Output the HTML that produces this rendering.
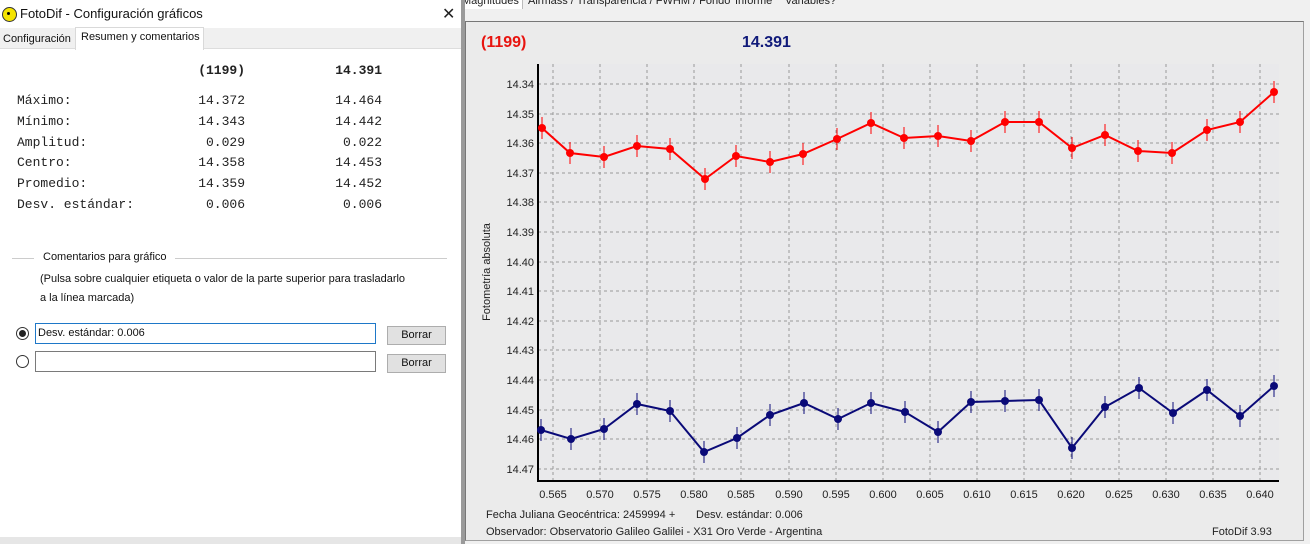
<!DOCTYPE html>
<html><head><meta charset="utf-8"><style>
body{margin:0;width:1310px;height:544px;overflow:hidden;background:#f0f0f0;font-family:"Liberation Sans",sans-serif;position:relative}
.abs{position:absolute}
.m{position:absolute;font-family:"Liberation Mono",monospace;font-size:13px;color:#222;white-space:pre}
.r{text-align:right}
</style></head><body>
<div class="abs" style="left:462px;top:0;width:848px;height:10px;background:#f0f0f0;font-size:11px;color:#222">
<div class="abs" style="left:0;top:-5px;width:60px;height:14px;background:#fff;border-right:1px solid #bbb">Magnitudes</div>
<div class="abs" style="left:66px;top:-5px;">Airmass / Transparencia / FWHM / Fondo</div>
<div class="abs" style="left:273px;top:-5px;">Informe</div>
<div class="abs" style="left:323px;top:-5px;">Variables?</div>
</div>
<div class="abs" style="left:465px;top:21px;width:837px;height:518px;background:#ebebeb;border:1px solid #a0a0a0;border-left-color:#777;border-top-color:#777"></div>
<svg class="abs" style="left:0;top:0" width="1310" height="544">
<text x="481" y="47" font-size="16" font-weight="bold" fill="#e8140f" font-family="Liberation Sans">(1199)</text>
<text x="742" y="47" font-size="16" font-weight="bold" fill="#101a7a" font-family="Liberation Sans">14.391</text>
<rect x="538" y="64" width="741" height="417" fill="#e9e9eb"/>
<g stroke="#999" stroke-dasharray="3,3" stroke-width="1">
<line x1="538" y1="84" x2="1279" y2="84"/><line x1="538" y1="114" x2="1279" y2="114"/><line x1="538" y1="143" x2="1279" y2="143"/><line x1="538" y1="173" x2="1279" y2="173"/><line x1="538" y1="202" x2="1279" y2="202"/><line x1="538" y1="232" x2="1279" y2="232"/><line x1="538" y1="262" x2="1279" y2="262"/><line x1="538" y1="291" x2="1279" y2="291"/><line x1="538" y1="321" x2="1279" y2="321"/><line x1="538" y1="350" x2="1279" y2="350"/><line x1="538" y1="380" x2="1279" y2="380"/><line x1="538" y1="410" x2="1279" y2="410"/><line x1="538" y1="439" x2="1279" y2="439"/><line x1="538" y1="469" x2="1279" y2="469"/>
<line x1="553" y1="64" x2="553" y2="481"/><line x1="600" y1="64" x2="600" y2="481"/><line x1="647" y1="64" x2="647" y2="481"/><line x1="694" y1="64" x2="694" y2="481"/><line x1="741" y1="64" x2="741" y2="481"/><line x1="789" y1="64" x2="789" y2="481"/><line x1="836" y1="64" x2="836" y2="481"/><line x1="883" y1="64" x2="883" y2="481"/><line x1="930" y1="64" x2="930" y2="481"/><line x1="977" y1="64" x2="977" y2="481"/><line x1="1024" y1="64" x2="1024" y2="481"/><line x1="1071" y1="64" x2="1071" y2="481"/><line x1="1119" y1="64" x2="1119" y2="481"/><line x1="1166" y1="64" x2="1166" y2="481"/><line x1="1213" y1="64" x2="1213" y2="481"/><line x1="1260" y1="64" x2="1260" y2="481"/>
</g>
<path d="M538 64V481H1279" fill="none" stroke="#000" stroke-width="2"/>
<g font-size="11" fill="#222" text-anchor="end" font-family="Liberation Sans">
<text x="534" y="88">14.34</text><text x="534" y="118">14.35</text><text x="534" y="147">14.36</text><text x="534" y="177">14.37</text><text x="534" y="206">14.38</text><text x="534" y="236">14.39</text><text x="534" y="266">14.40</text><text x="534" y="295">14.41</text><text x="534" y="325">14.42</text><text x="534" y="354">14.43</text><text x="534" y="384">14.44</text><text x="534" y="414">14.45</text><text x="534" y="443">14.46</text><text x="534" y="473">14.47</text>
</g>
<g font-size="11" fill="#222" text-anchor="middle" font-family="Liberation Sans">
<text x="553" y="498">0.565</text><text x="600" y="498">0.570</text><text x="647" y="498">0.575</text><text x="694" y="498">0.580</text><text x="741" y="498">0.585</text><text x="789" y="498">0.590</text><text x="836" y="498">0.595</text><text x="883" y="498">0.600</text><text x="930" y="498">0.605</text><text x="977" y="498">0.610</text><text x="1024" y="498">0.615</text><text x="1071" y="498">0.620</text><text x="1119" y="498">0.625</text><text x="1166" y="498">0.630</text><text x="1213" y="498">0.635</text><text x="1260" y="498">0.640</text>
</g>
<text transform="translate(490,272) rotate(-90)" font-size="11" fill="#222" text-anchor="middle" font-family="Liberation Sans">Fotometría absoluta</text>
<text x="486" y="518" font-size="11" fill="#222" font-family="Liberation Sans">Fecha Juliana Geocéntrica: 2459994 +</text>
<text x="696" y="518" font-size="11" fill="#222" font-family="Liberation Sans">Desv. estándar: 0.006</text>
<text x="486" y="535" font-size="11" fill="#222" font-family="Liberation Sans">Observador: Observatorio Galileo Galilei - X31 Oro Verde - Argentina</text>
<text x="1212" y="535" font-size="11" fill="#222" font-family="Liberation Sans">FotoDif 3.93</text>
<g stroke="#f00" fill="#f00">
<polyline fill="none" stroke-width="2" points="542,128 570,153 604,157 637,146 670,149 705,179 736,156 770,162 803,154 837,139 871,123 904,138 938,136 971,141 1005,122 1039,122 1072,148 1105,135 1138,151 1172,153 1207,130 1240,122 1274,92"/>
<path stroke-width="1" d="M542 117v22M570 142v22M604 146v22M637 135v22M670 138v22M705 168v22M736 145v22M770 151v22M803 143v22M837 128v22M871 112v22M904 127v22M938 125v22M971 130v22M1005 111v22M1039 111v22M1072 137v22M1105 124v22M1138 140v22M1172 142v22M1207 119v22M1240 111v22M1274 81v22"/>
<g stroke="none"><circle cx="542" cy="128" r="4"/><circle cx="570" cy="153" r="4"/><circle cx="604" cy="157" r="4"/><circle cx="637" cy="146" r="4"/><circle cx="670" cy="149" r="4"/><circle cx="705" cy="179" r="4"/><circle cx="736" cy="156" r="4"/><circle cx="770" cy="162" r="4"/><circle cx="803" cy="154" r="4"/><circle cx="837" cy="139" r="4"/><circle cx="871" cy="123" r="4"/><circle cx="904" cy="138" r="4"/><circle cx="938" cy="136" r="4"/><circle cx="971" cy="141" r="4"/><circle cx="1005" cy="122" r="4"/><circle cx="1039" cy="122" r="4"/><circle cx="1072" cy="148" r="4"/><circle cx="1105" cy="135" r="4"/><circle cx="1138" cy="151" r="4"/><circle cx="1172" cy="153" r="4"/><circle cx="1207" cy="130" r="4"/><circle cx="1240" cy="122" r="4"/><circle cx="1274" cy="92" r="4"/></g>
</g>
<g stroke="#0a0a78" fill="#0a0a78">
<polyline fill="none" stroke-width="2" points="541,430 571,439 604,429 637,404 670,411 704,452 737,438 770,415 804,403 838,419 871,403 905,412 938,432 971,402 1005,401 1039,400 1072,448 1105,407 1139,388 1173,413 1207,390 1240,416 1274,386"/>
<path stroke-width="1" d="M541 419v22M571 428v22M604 418v22M637 393v22M670 400v22M704 441v22M737 427v22M770 404v22M804 392v22M838 408v22M871 392v22M905 401v22M938 421v22M971 391v22M1005 390v22M1039 389v22M1072 437v22M1105 396v22M1139 377v22M1173 402v22M1207 379v22M1240 405v22M1274 375v22"/>
<g stroke="none"><circle cx="541" cy="430" r="4"/><circle cx="571" cy="439" r="4"/><circle cx="604" cy="429" r="4"/><circle cx="637" cy="404" r="4"/><circle cx="670" cy="411" r="4"/><circle cx="704" cy="452" r="4"/><circle cx="737" cy="438" r="4"/><circle cx="770" cy="415" r="4"/><circle cx="804" cy="403" r="4"/><circle cx="838" cy="419" r="4"/><circle cx="871" cy="403" r="4"/><circle cx="905" cy="412" r="4"/><circle cx="938" cy="432" r="4"/><circle cx="971" cy="402" r="4"/><circle cx="1005" cy="401" r="4"/><circle cx="1039" cy="400" r="4"/><circle cx="1072" cy="448" r="4"/><circle cx="1105" cy="407" r="4"/><circle cx="1139" cy="388" r="4"/><circle cx="1173" cy="413" r="4"/><circle cx="1207" cy="390" r="4"/><circle cx="1240" cy="416" r="4"/><circle cx="1274" cy="386" r="4"/></g>
</g>
</svg>
<div class="abs" style="left:0;top:0;width:461px;height:537px;background:#fff;border-right:1px solid #888"></div>
<div class="abs" style="left:461px;top:0;width:4px;height:544px;background:#9a9a9a"></div>
<div class="abs" style="left:0;top:537px;width:461px;height:7px;background:#e6e6e6"></div>
<div class="abs" style="left:2px;top:7px;width:13px;height:13px;border-radius:50%;background:#f5e400;border:1px solid #333"></div>
<div class="abs" style="left:7px;top:12px;width:3px;height:3px;background:#000;border-radius:50%"></div>
<div class="abs" style="left:20px;top:6px;font-size:13px;color:#111">FotoDif - Configuración gráficos</div>
<div class="abs" style="left:442px;top:4px;font-size:16px;color:#222">✕</div>
<div class="abs" style="left:0;top:28px;width:461px;height:20px;background:#f0f0f0;border-bottom:1px solid #ddd"></div>
<div class="abs" style="left:3px;top:33px;font-size:11px;color:#111">Configuración</div>
<div class="abs" style="left:75px;top:27px;width:127px;height:22px;background:#fff;border:1px solid #d9d9d9;border-bottom:none"></div>
<div class="abs" style="left:81px;top:31px;font-size:11px;color:#111">Resumen y comentarios</div>
<div class="m r" style="left:145px;top:63px;width:100px;font-weight:bold">(1199)</div>
<div class="m r" style="left:282px;top:63px;width:100px;font-weight:bold">14.391</div>
<div class="m" style="left:17px;top:91px;line-height:20.8px">Máximo:
Mínimo:
Amplitud:
Centro:
Promedio:
Desv. estándar:</div>
<div class="m r" style="left:145px;top:91px;width:100px;line-height:20.8px">14.372
14.343
0.029
14.358
14.359
0.006</div>
<div class="m r" style="left:282px;top:91px;width:100px;line-height:20.8px">14.464
14.442
0.022
14.453
14.452
0.006</div>
<div class="abs" style="left:12px;top:258px;width:22px;border-top:1px solid #ccc"></div>
<div class="abs" style="left:175px;top:258px;width:272px;border-top:1px solid #ccc"></div>
<div class="abs" style="left:43px;top:251px;font-size:11px;color:#111">Comentarios para gráfico</div>
<div class="abs" style="left:40px;top:270px;font-size:11px;color:#111;line-height:19px">(Pulsa sobre cualquier etiqueta o valor de la parte superior para trasladarlo<br>a la línea marcada)</div>
<div class="abs" style="left:16px;top:327px;width:11px;height:11px;border:1px solid #333;border-radius:50%;background:#fff"></div>
<div class="abs" style="left:19px;top:330px;width:7px;height:7px;border-radius:50%;background:#222"></div>
<div class="abs" style="left:16px;top:355px;width:11px;height:11px;border:1px solid #333;border-radius:50%;background:#fff"></div>
<div class="abs" style="left:35px;top:323px;font-size:11px;line-height:19px;padding-left:2px;box-sizing:border-box;width:341px;height:21px;color:#111;border:1px solid #1e78c8">Desv. estándar: 0.006</div>
<div class="abs" style="left:35px;top:351px;width:341px;height:21px;border:1px solid #7a7a7a;box-sizing:border-box"></div>
<div class="abs" style="left:387px;top:326px;width:57px;height:17px;background:#e1e1e1;border:1px solid #adadad;font-size:11px;text-align:center;line-height:17px;color:#111">Borrar</div>
<div class="abs" style="left:387px;top:354px;width:57px;height:17px;background:#e1e1e1;border:1px solid #adadad;font-size:11px;text-align:center;line-height:17px;color:#111">Borrar</div>
</body></html>
